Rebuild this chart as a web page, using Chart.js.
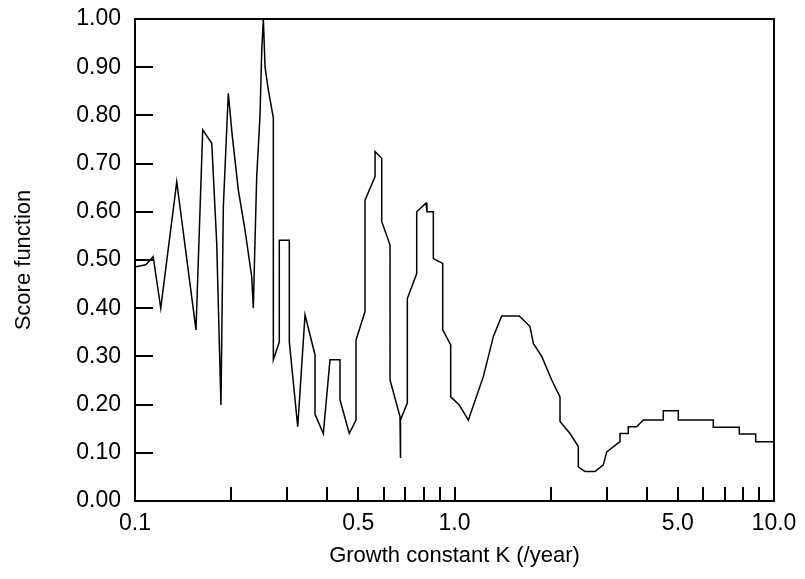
<!DOCTYPE html>
<html>
<head>
<meta charset="utf-8">
<script src="https://cdn.jsdelivr.net/npm/chart.js@4.4.0/dist/chart.umd.min.js"></script>
<style>
  body { margin: 0; background: #fff; }
</style>
</head>
<body>
<canvas id="scoreChart" width="805" height="579"></canvas>
<script>
// K values (/year) and score
const kValues = [
  0.1007, 0.108, 0.114, 0.1204, 0.1351, 0.1552, 0.1629, 0.1739, 0.1802, 0.1858,
  0.189, 0.1959, 0.2014, 0.2106, 0.221, 0.2319, 0.2346, 0.2375, 0.2404, 0.2462,
  0.2493, 0.2522, 0.2553, 0.2614, 0.271, 0.271, 0.2829, 0.2829, 0.3041, 0.3041,
  0.3231, 0.3405, 0.366, 0.366, 0.3885, 0.4077, 0.4381, 0.4381, 0.4685, 0.4917,
  0.4917, 0.5247, 0.5247, 0.5641, 0.5641, 0.5918, 0.5918, 0.6284, 0.6284, 0.6752,
  0.6752, 0.68, 0.7118, 0.7118, 0.7616, 0.7616, 0.8144, 0.82, 0.8585, 0.8585,
  0.9186, 0.9186, 0.973, 0.973, 1.035, 1.105, 1.231, 1.323, 1.405, 1.595,
  1.723, 1.765, 1.875, 2.015, 2.139, 2.139, 2.299, 2.441, 2.441, 2.562,
  2.753, 2.923, 2.996, 3.296, 3.296, 3.499, 3.499, 3.718, 3.899, 4.503,
  4.503, 5.017, 5.017, 6.457, 6.457, 7.787, 7.787, 8.764, 8.764, 10
];
const scores = [
  0.486, 0.49, 0.507, 0.400, 0.662, 0.355, 0.770, 0.742, 0.535, 0.199,
  0.61, 0.846, 0.76, 0.645, 0.562, 0.465, 0.400, 0.541, 0.673, 0.80,
  0.936, 1.0, 0.90, 0.853, 0.795, 0.293, 0.33, 0.541, 0.541, 0.33,
  0.154, 0.386, 0.303, 0.18, 0.14, 0.293, 0.293, 0.21, 0.14, 0.168,
  0.334, 0.393, 0.624, 0.673, 0.725, 0.711, 0.58, 0.531, 0.251, 0.175,
  0.089, 0.168, 0.203, 0.42, 0.472, 0.60, 0.618, 0.60, 0.60, 0.503,
  0.493, 0.355, 0.324, 0.216, 0.199, 0.168, 0.258, 0.341, 0.384, 0.384,
  0.362, 0.327, 0.30, 0.251, 0.216, 0.165, 0.14, 0.113, 0.071, 0.061,
  0.061, 0.075, 0.102, 0.123, 0.14, 0.14, 0.154, 0.154, 0.168, 0.168,
  0.187, 0.187, 0.168, 0.168, 0.153, 0.153, 0.139, 0.139, 0.123, 0.123
];

const xLabelValues = [0.1, 0.5, 1, 5, 10];
const xTickLabels = ['0.1', '0.5', '1.0', '5.0', '10.0'];
const xTickMarks = [0.2, 0.3, 0.4, 0.5, 0.6, 0.7, 0.8, 0.9, 1, 2, 3, 4, 5, 6, 7, 8, 9];
const yTickMarks = [0.1, 0.2, 0.3, 0.4, 0.5, 0.6, 0.7, 0.8, 0.9];

const points = kValues.map((k, i) => ({ x: k, y: scores[i] }));

// box round the plot plus inward tick marks
const frameTicks = {
  id: 'frameTicks',
  afterDraw(chart) {
    const { ctx, chartArea: a, scales } = chart;
    ctx.save();
    ctx.strokeStyle = '#000';
    ctx.lineWidth = 2;
    ctx.beginPath();
    xTickMarks.forEach(v => {
      const px = Math.round(scales.x.getPixelForValue(v));
      ctx.moveTo(px, a.bottom);
      ctx.lineTo(px, a.bottom - 14);
    });
    ctx.stroke();
    ctx.beginPath();
    yTickMarks.forEach(v => {
      const py = Math.round(scales.y.getPixelForValue(v));
      ctx.moveTo(a.left, py);
      ctx.lineTo(a.left + 18, py);
    });
    ctx.stroke();
    ctx.strokeRect(a.left, a.top, a.right - a.left, a.bottom - a.top);
    ctx.restore();
  }
};

new Chart(document.getElementById('scoreChart'), {
  type: 'line',
  data: {
    datasets: [{
      data: points,
      borderColor: '#000',
      borderWidth: 1.5,
      pointRadius: 0,
      tension: 0,
      fill: false
    }]
  },
  options: {
    responsive: false,
    animation: false,
    layout: { padding: { top: 19, right: 31, left: 0, bottom: 0 } },
    plugins: { legend: { display: false }, tooltip: { enabled: false } },
    scales: {
      x: {
        type: 'logarithmic',
        min: 0.1,
        max: 10,
        grid: { display: false },
        border: { display: false },
        afterBuildTicks: s => { s.ticks = xLabelValues.map(v => ({ value: v })); },
        afterFit: s => { s.height = 78; },
        ticks: {
          autoSkip: false,
          maxRotation: 0,
          padding: 1,
          color: '#000',
          font: { family: 'Liberation Sans', size: 23 },
          callback: (v) => xTickLabels[xLabelValues.indexOf(v)]
        },
        title: {
          display: true,
          text: 'Growth constant K (/year)',
          color: '#000',
          font: { family: 'Liberation Sans', size: 22 },
          padding: { top: 0, bottom: 10 }
        }
      },
      y: {
        min: 0,
        max: 1,
        grid: { display: false },
        border: { display: false },
        afterFit: s => { s.width = 135; s.paddingTop = 0; s.paddingBottom = 0; },
        ticks: {
          stepSize: 0.1,
          padding: 6,
          color: '#000',
          font: { family: 'Liberation Sans', size: 23 },
          callback: v => v.toFixed(2)
        },
        title: {
          display: true,
          text: 'Score function',
          color: '#000',
          font: { family: 'Liberation Sans', size: 22 },
          padding: { top: 11, bottom: 0 }
        }
      }
    }
  },
  plugins: [frameTicks]
});
</script>
</body>
</html>
